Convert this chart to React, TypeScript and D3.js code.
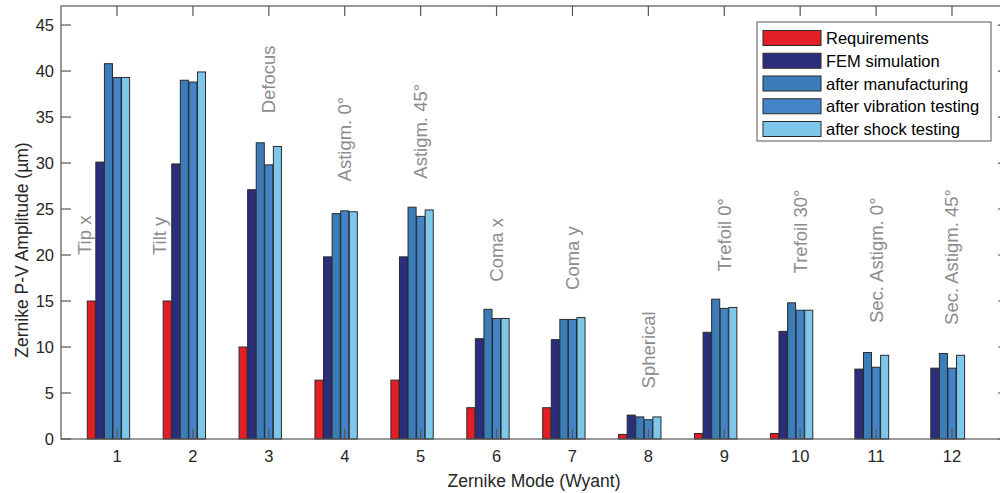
import React from 'react';
import * as d3 from 'd3';

// zernike modes 1..12
const modes = [1, 2, 3, 4, 5, 6, 7, 8, 9, 10, 11, 12];

const seriesNames = [
	'Requirements',
	'FEM simulation',
	'after manufacturing',
	'after vibration testing',
	'after shock testing',
];
const seriesColors = ['#E41E26', '#2B2E7C', '#3B7DB8', '#4284C7', '#7DC8EA'];

const requirements = [15, 15, 10, 6.4, 6.4, 3.4, 3.4, 0.5, 0.6, 0.6, 0, 0];
const femSimulation = [30.1, 29.9, 27.1, 19.8, 19.8, 10.9, 10.8, 2.6, 11.6, 11.7, 7.6, 7.7];
const afterManufacturing = [40.8, 39.0, 32.2, 24.5, 25.2, 14.1, 13.0, 2.4, 15.2, 14.8, 9.4, 9.3];
const afterVibration = [39.3, 38.8, 29.8, 24.8, 24.2, 13.1, 13.0, 2.1, 14.2, 14.0, 7.8, 7.7];
const afterShock = [39.3, 39.9, 31.8, 24.7, 24.9, 13.1, 13.2, 2.4, 14.3, 14.0, 9.1, 9.1];

const yTicks = [0, 5, 10, 15, 20, 25, 30, 35, 40, 45];

// mode name annotations, placed at (mode + dx, y)
const modeNames = [
	'Tip x', 'Tilt y', 'Defocus', 'Astigm. 0°', 'Astigm. 45°', 'Coma x',
	'Coma y', 'Spherical', 'Trefoil 0°', 'Trefoil 30°', 'Sec. Astigm. 0°', 'Sec. Astigm. 45°',
];
const nameOffsets = [-0.43, -0.44, 0, 0, 0, 0, 0, 0, 0, 0, 0, 0];
const nameHeights = [20, 20, 35.4, 28, 28.3, 17.1, 16.2, 5.5, 18.2, 18, 12.6, 12.4];

const W = 1000;
const H = 493;
const font = '"Liberation Sans", Arial, Helvetica, sans-serif';
const axisColor = '#555';

export default function App() {
	const series = [requirements, femSimulation, afterManufacturing, afterVibration, afterShock];

	const x = d3.scaleLinear().domain([0.262, 12.738]).range([61, 1008]);
	const y = d3.scaleLinear().domain([0, 47.07]).range([439, 6]);

	// 7 slots per group (matlab style), only the first five are used
	const inner = d3
		.scaleBand<number>()
		.domain(d3.range(7))
		.range([-29.75, 29.75])
		.paddingInner(0.06);

	const tickLen = 10;

	return (
		<svg
			width={W}
			height={H}
			style={{ position: 'absolute', left: 0, top: 0, background: '#fff', fontFamily: font }}>
			{/* bars */}
			<g>
				{series.map((vals, s) =>
					vals.map((v, i) =>
						v > 0 ? (
							<rect
								key={`${s}-${i}`}
								x={x(modes[i]) + (inner(s) as number)}
								y={y(v)}
								width={inner.bandwidth()}
								height={y(0) - y(v)}
								fill={seriesColors[s]}
								stroke="#2a2a2a"
								strokeWidth={1}
							/>
						) : null
					)
				)}
			</g>

			{/* mode annotations */}
			<g>
				{modeNames.map((name, i) => (
					<text
						key={name}
						transform={`translate(${x(modes[i] + nameOffsets[i])}, ${y(nameHeights[i])}) rotate(-90)`}
						fontSize={18.5}
						fill="#8c8c8c"
						dominantBaseline="central">
						{name}
					</text>
				))}
			</g>

			{/* axes box */}
			<rect x={61} y={6} width={1008 - 61} height={439 - 6} fill="none" stroke={axisColor} strokeWidth={1.2} />

			{/* y ticks */}
			{yTicks.map((t) => (
				<g key={t}>
					<line x1={61} x2={61 + tickLen} y1={y(t)} y2={y(t)} stroke={axisColor} strokeWidth={1.2} />
					<line x1={1008} x2={1008 - tickLen} y1={y(t)} y2={y(t)} stroke={axisColor} strokeWidth={1.2} />
					<text x={54} y={y(t)} textAnchor="end" dominantBaseline="central" fontSize={16.5} fill="#262626">
						{t}
					</text>
				</g>
			))}

			{/* x ticks */}
			{modes.map((m) => (
				<g key={m}>
					<line x1={x(m)} x2={x(m)} y1={439} y2={439 - tickLen} stroke={axisColor} strokeWidth={1.2} />
					<line x1={x(m)} x2={x(m)} y1={6} y2={6 + tickLen} stroke={axisColor} strokeWidth={1.2} />
					<text x={x(m)} y={462} textAnchor="middle" fontSize={16.5} fill="#262626">
						{m}
					</text>
				</g>
			))}

			{/* axis labels */}
			<text x={534} y={487} textAnchor="middle" fontSize={17.5} fill="#262626">
				Zernike Mode (Wyant)
			</text>
			<text
				transform={`translate(28, 250) rotate(-90)`}
				textAnchor="middle"
				fontSize={17.5}
				fill="#262626">
				Zernike P-V Amplitude (µm)
			</text>

			{/* legend */}
			<g>
				<rect x={757} y={22} width={234} height={119} fill="#fff" stroke={axisColor} strokeWidth={1} />
				{seriesNames.map((name, s) => (
					<g key={name} transform={`translate(763, ${38 + s * 22.75})`}>
						<rect x={0} y={-7.5} width={58} height={15} fill={seriesColors[s]} stroke="#2a2a2a" strokeWidth={1} />
						<text x={63} y={0} dominantBaseline="central" fontSize={16.5} fill="#000">
							{name}
						</text>
					</g>
				))}
			</g>
		</svg>
	);
}
